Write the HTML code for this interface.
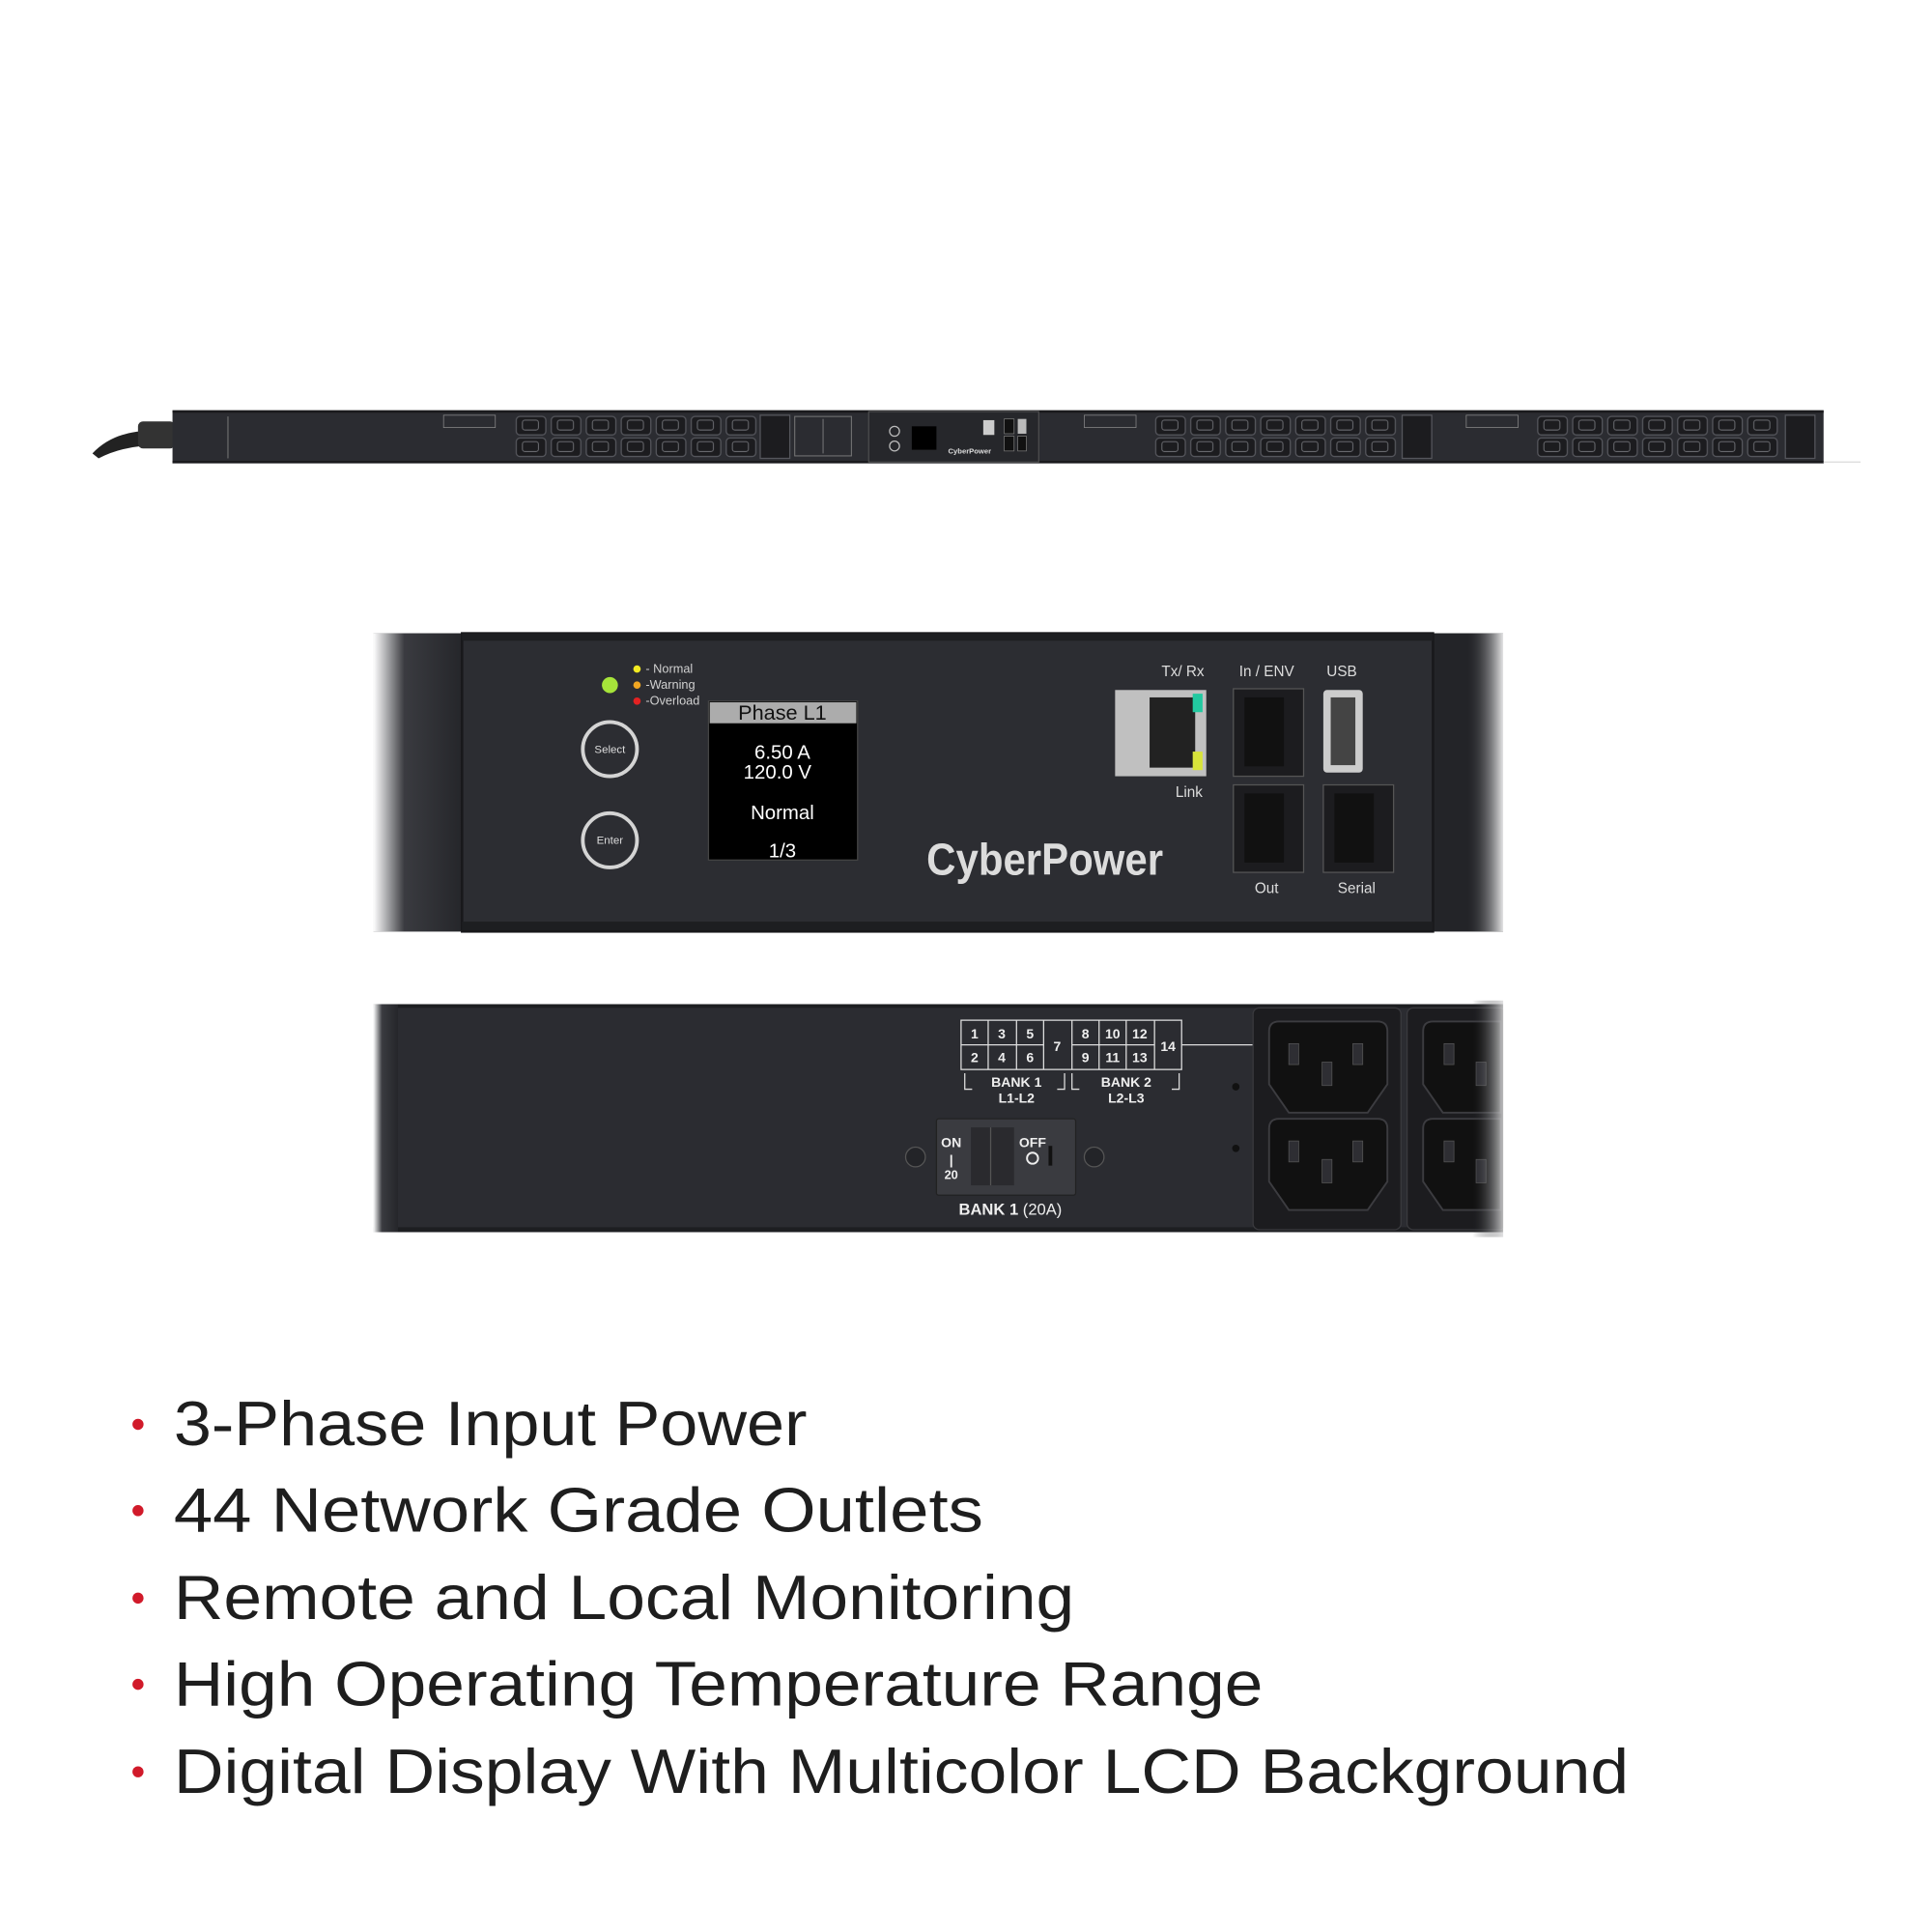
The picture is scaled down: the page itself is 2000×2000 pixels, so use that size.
<!DOCTYPE html>
<html><head><meta charset="utf-8"><style>
html,body{margin:0;padding:0;background:#fff;width:2000px;height:2000px;overflow:hidden}
svg{display:block}
text{font-family:"Liberation Sans",sans-serif}
</style></head><body>
<svg width="2000" height="2000" viewBox="0 0 1568 1568" xmlns="http://www.w3.org/2000/svg">
<defs>
<linearGradient id="lfade" x1="0" x2="1"><stop offset="0" stop-color="#fff"/><stop offset="0.35" stop-color="#3a3b40"/><stop offset="1" stop-color="#25262a"/></linearGradient>
<linearGradient id="rfade" x1="0" x2="1"><stop offset="0" stop-color="#25262a" stop-opacity="0"/><stop offset="1" stop-color="#fff"/></linearGradient>
<pattern id="out" x="418" y="337" width="28.4" height="17.5" patternUnits="userSpaceOnUse">
<rect x="1" y="1" width="24" height="15" rx="3" fill="#1c1c1f" stroke="#55565c" stroke-width="1"/>
<rect x="6" y="4" width="13" height="8" rx="2" fill="none" stroke="#6a6b70" stroke-width="0.8"/>
</pattern>
</defs>
<rect width="1568" height="1568" fill="#fff"/>

<!-- top strip -->
<path d="M75 368 Q90 352 115 350 L140 348 L140 362 L115 362 Q95 364 80 372Z" fill="#222"/>
<rect x="112" y="342" width="30" height="22" rx="4" fill="#333"/>
<rect x="140" y="333" width="1340" height="43" fill="#2b2c31"/>
<rect x="140" y="333" width="1340" height="2" fill="#1a1a1d"/>
<rect x="140" y="374" width="1340" height="2" fill="#1a1a1d"/>
<line x1="1480" y1="375" x2="1510" y2="375" stroke="#ddd" stroke-width="1"/>
<rect x="418" y="337" width="199" height="35" fill="url(#out)"/>
<rect x="617" y="337" width="24" height="35" fill="#1c1c1f" stroke="#55565c"/>
<rect x="645" y="338" width="46" height="32" fill="#2b2c31" stroke="#777" stroke-width="0.8"/>
<line x1="668" y1="340" x2="668" y2="368" stroke="#777" stroke-width="0.8"/>
<rect x="705" y="334" width="138" height="41" fill="#26272b" stroke="#555" stroke-width="0.8"/>
<circle cx="726" cy="350" r="4" fill="none" stroke="#bbb"/>
<circle cx="726" cy="362" r="4" fill="none" stroke="#bbb"/>
<rect x="740" y="346" width="20" height="19" fill="#000"/>
<rect x="798" y="341" width="9" height="12" fill="#ccc"/>
<rect x="815" y="340" width="8" height="12" fill="#111" stroke="#777" stroke-width="0.6"/>
<rect x="826" y="340" width="7" height="12" fill="#bbb"/>
<rect x="815" y="354" width="8" height="12" fill="#111" stroke="#777" stroke-width="0.6"/>
<rect x="826" y="354" width="7" height="12" fill="#111" stroke="#777" stroke-width="0.6"/>
<text x="787" y="368" font-size="6" fill="#ddd" text-anchor="middle" font-weight="bold">CyberPower</text>
<rect x="360" y="337" width="42" height="10" fill="none" stroke="#888" stroke-width="0.6"/>
<rect x="880" y="337" width="42" height="10" fill="none" stroke="#888" stroke-width="0.6"/>
<rect x="1190" y="337" width="42" height="10" fill="none" stroke="#888" stroke-width="0.6"/>
<g transform="translate(519,0)"><rect x="418" y="337" width="199" height="35" fill="url(#out)"/></g>
<rect x="1138" y="337" width="24" height="35" fill="#1c1c1f" stroke="#55565c"/>
<g transform="translate(829,0)"><rect x="418" y="337" width="199" height="35" fill="url(#out)"/></g>
<rect x="1449" y="337" width="24" height="35" fill="#1c1c1f" stroke="#55565c"/>
<line x1="185" y1="338" x2="185" y2="372" stroke="#777" stroke-width="0.8"/>

<!-- panel 1 -->
<rect x="303" y="514" width="917" height="242" fill="#2b2c31"/>
<rect x="303" y="514" width="72" height="242" fill="url(#lfade)"/>
<rect x="1163" y="514" width="57" height="242" fill="#232428"/>
<rect x="1190" y="514" width="32" height="242" fill="url(#rfade)"/>
<rect x="375" y="514" width="788" height="242" fill="#2c2d32" stroke="#18181b" stroke-width="2"/>
<rect x="375" y="514" width="788" height="6" fill="#1d1e21"/>
<rect x="375" y="748" width="788" height="7" fill="#1d1e21"/>
<circle cx="495" cy="556" r="6.5" fill="#a6e43a"/>
<circle cx="517" cy="543" r="3" fill="#f2ea22"/>
<circle cx="517" cy="556" r="3" fill="#f1a622"/>
<circle cx="517" cy="569" r="3" fill="#e32222"/>
<text x="524" y="546" font-size="10" fill="#d0d0d0">- Normal</text>
<text x="524" y="559" font-size="10" fill="#d0d0d0">-Warning</text>
<text x="524" y="572" font-size="10" fill="#d0d0d0">-Overload</text>
<circle cx="495" cy="608" r="22" fill="none" stroke="#d4d4d4" stroke-width="3"/>
<circle cx="495" cy="682" r="22" fill="none" stroke="#d4d4d4" stroke-width="3"/>
<text x="495" y="611" font-size="9" fill="#ddd" text-anchor="middle">Select</text>
<text x="495" y="685" font-size="9" fill="#ddd" text-anchor="middle">Enter</text>
<rect x="575" y="569" width="121" height="129" fill="#000" stroke="#444"/>
<rect x="576" y="570" width="119" height="17" fill="#acacac"/>
<g font-family="Liberation Mono,monospace" text-anchor="middle">
<text x="635" y="584" font-size="17" fill="#111">Phase L1</text>
<text x="635" y="616" font-size="16" fill="#fff">6.50 A</text>
<text x="631" y="632" font-size="16" fill="#fff">120.0 V</text>
<text x="635" y="665" font-size="16" fill="#fff">Normal</text>
<text x="635" y="696" font-size="16" fill="#fff">1/3</text>
</g>
<text x="848" y="710" font-size="36" font-weight="bold" fill="#dcdcdc" text-anchor="middle" textLength="192" lengthAdjust="spacingAndGlyphs">CyberPower</text>
<text x="960" y="549" font-size="12" fill="#ddd" text-anchor="middle">Tx/ Rx</text>
<text x="1028" y="549" font-size="12" fill="#ddd" text-anchor="middle">In /  ENV</text>
<text x="1089" y="549" font-size="12" fill="#ddd" text-anchor="middle">USB</text>
<text x="965" y="647" font-size="12" fill="#ddd" text-anchor="middle">Link</text>
<text x="1028" y="725" font-size="12" fill="#ddd" text-anchor="middle">Out</text>
<text x="1101" y="725" font-size="12" fill="#ddd" text-anchor="middle">Serial</text>
<rect x="905" y="560" width="74" height="70" fill="#c0c0c0"/>
<rect x="933" y="566" width="37" height="57" fill="#222"/>
<rect x="968" y="563" width="8" height="15" fill="#22c9a0"/>
<rect x="968" y="610" width="8" height="15" fill="#d8e43a"/>
<g fill="#1c1c1f" stroke="#555" stroke-width="1">
<rect x="1001" y="559" width="57" height="71"/>
<rect x="1001" y="637" width="57" height="71"/>
<rect x="1074" y="637" width="57" height="71"/>
</g>
<g fill="#111"><rect x="1010" y="566" width="32" height="56"/><rect x="1010" y="644" width="32" height="56"/><rect x="1083" y="644" width="32" height="56"/></g>
<rect x="1074" y="560" width="32" height="67" rx="3" fill="#ccc"/>
<rect x="1080" y="566" width="20" height="55" fill="#444"/>

<!-- panel 2 -->
<rect x="303" y="815" width="917" height="185" fill="#2b2c31"/>
<rect x="303" y="815" width="917" height="3" fill="#1d1e21"/>
<rect x="303" y="996" width="917" height="4" fill="#1d1e21"/>
<rect x="303" y="815" width="20" height="185" fill="url(#lfade)"/>
<g stroke="#ddd" stroke-width="1" fill="none">
<rect x="780" y="828" width="179" height="40"/>
<line x1="802" y1="828" x2="802" y2="868"/><line x1="825" y1="828" x2="825" y2="868"/><line x1="847" y1="828" x2="847" y2="868"/><line x1="870" y1="828" x2="870" y2="868"/><line x1="892" y1="828" x2="892" y2="868"/><line x1="914" y1="828" x2="914" y2="868"/><line x1="937" y1="828" x2="937" y2="868"/>
<line x1="780" y1="848" x2="847" y2="848"/><line x1="870" y1="848" x2="937" y2="848"/>
<line x1="959" y1="848" x2="1017" y2="848"/>
<path d="M783 871 V884 H789 M864 871 V884 H858 M870 871 V884 H876 M957 871 V884 H951"/>
</g>
<g font-size="11" font-weight="bold" fill="#eee" text-anchor="middle">
<text x="791" y="843">1</text><text x="813" y="843">3</text><text x="836" y="843">5</text><text x="858" y="853">7</text>
<text x="881" y="843">8</text><text x="903" y="843">10</text><text x="925" y="843">12</text><text x="948" y="853">14</text>
<text x="791" y="862">2</text><text x="813" y="862">4</text><text x="836" y="862">6</text>
<text x="881" y="862">9</text><text x="903" y="862">11</text><text x="925" y="862">13</text>
<text x="825" y="882">BANK 1</text><text x="825" y="895">L1-L2</text>
<text x="914" y="882">BANK 2</text><text x="914" y="895">L2-L3</text>
</g>
<circle cx="743" cy="939" r="8" fill="#232428" stroke="#555"/>
<circle cx="888" cy="939" r="8" fill="#232428" stroke="#555"/>
<rect x="760" y="908" width="113" height="62" rx="2" fill="#3a3b40" stroke="#222"/>
<rect x="788" y="915" width="35" height="47" fill="#2a2a2e"/>
<line x1="804" y1="915" x2="804" y2="962" stroke="#555"/>
<g font-size="11" font-weight="bold" fill="#eee" text-anchor="middle">
<text x="772" y="931">ON</text><text x="772" y="945">|</text><text x="772" y="957" font-size="10">20</text>
<text x="838" y="931">OFF</text>
</g>
<circle cx="838" cy="940" r="4.5" fill="none" stroke="#eee" stroke-width="1.5"/>
<rect x="851" y="930" width="3" height="16" fill="#111"/>
<text x="820" y="986" font-size="13" fill="#eee" text-anchor="middle"><tspan font-weight="bold">BANK 1</tspan> (20A)</text>
<circle cx="1003" cy="882" r="3" fill="#111"/><circle cx="1003" cy="932" r="3" fill="#111"/>
<rect x="1017" y="818" width="120" height="180" rx="5" fill="#1c1c1f" stroke="#3a3a3e"/>
<rect x="1142" y="818" width="80" height="180" rx="5" fill="#1c1c1f" stroke="#3a3a3e"/>
<g fill="#111" stroke="#3c3c40" stroke-width="1.5">
<path d="M1038 829 H1118 Q1126 829 1126 837 V880 L1110 903 H1046 L1030 880 V837 Q1030 829 1038 829Z"/>
<path d="M1038 908 H1118 Q1126 908 1126 916 V959 L1110 982 H1046 L1030 959 V916 Q1030 908 1038 908Z"/>
<path d="M1163 829 H1218 V903 H1171 L1155 880 V837 Q1155 829 1163 829Z"/>
<path d="M1163 908 H1218 V982 H1171 L1155 959 V916 Q1155 908 1163 908Z"/>
</g>
<g fill="#2e2e33" stroke="#555" stroke-width="0.6">
<rect x="1046" y="847" width="8" height="17"/><rect x="1098" y="847" width="8" height="17"/><rect x="1073" y="862" width="8" height="19"/>
<rect x="1046" y="926" width="8" height="17"/><rect x="1098" y="926" width="8" height="17"/><rect x="1073" y="941" width="8" height="19"/>
<rect x="1172" y="847" width="8" height="17"/><rect x="1172" y="926" width="8" height="17"/><rect x="1198" y="862" width="8" height="19"/><rect x="1198" y="941" width="8" height="19"/>
</g>
<rect x="1195" y="812" width="30" height="192" fill="url(#rfade)"/>
<rect x="1220" y="505" width="40" height="520" fill="#fff"/>

<!-- bullets -->
<g fill="#d11a2a">
<circle cx="112" cy="1156" r="4.5"/><circle cx="112" cy="1226" r="4.5"/><circle cx="112" cy="1297" r="4.5"/><circle cx="112" cy="1367" r="4.5"/><circle cx="112" cy="1438" r="4.5"/>
</g>
<g font-size="51" fill="#1e1e1e">
<text x="141" y="1173" textLength="514" lengthAdjust="spacingAndGlyphs">3-Phase Input Power</text>
<text x="141" y="1243" textLength="657" lengthAdjust="spacingAndGlyphs">44 Network Grade Outlets</text>
<text x="141" y="1314" textLength="731" lengthAdjust="spacingAndGlyphs">Remote and Local Monitoring</text>
<text x="141" y="1384" textLength="884" lengthAdjust="spacingAndGlyphs">High Operating Temperature Range</text>
<text x="141" y="1455" textLength="1181" lengthAdjust="spacingAndGlyphs">Digital Display With Multicolor LCD Background</text>
</g>
</svg>
</body></html>
